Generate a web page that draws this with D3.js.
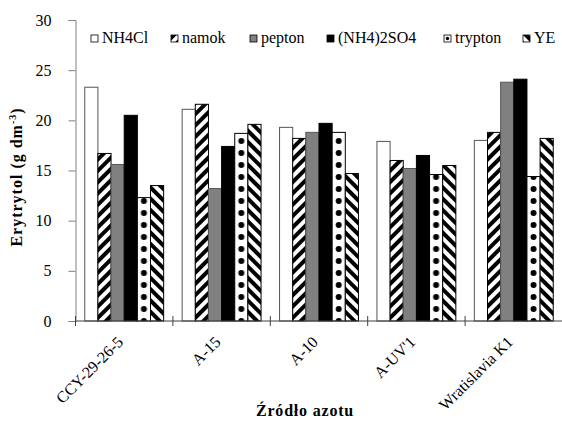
<!DOCTYPE html>
<html>
<head>
<meta charset="utf-8">
<script src="https://cdn.jsdelivr.net/npm/d3@7"></script>
<style>
  body { margin: 0; background: #fff; }
  svg text { font-family: "Liberation Serif", "Times New Roman", serif; }
</style>
</head>
<body>
<div class="chart"></div>
<script>
// Data.
const strains = ["CCY-29-26-5", "A-15", "A-10", "A-UV'1", "Wratislavia K1"];
const sources = ["NH4Cl", "namok", "pepton", "(NH4)2SO4", "trypton", "YE"];
const nh4cl   = [23.3, 21.1, 19.3, 17.9, 18.0];
const namok   = [16.7, 21.6, 18.2, 16.0, 18.8];
const pepton  = [15.6, 13.2, 18.8, 15.2, 23.8];
const nh4so4  = [20.5, 17.4, 19.7, 16.5, 24.1];
const trypton = [12.3, 18.7, 18.8, 14.6, 14.4];
const ye      = [13.5, 19.6, 14.7, 15.5, 18.2];
const yTicks  = [0, 5, 10, 15, 20, 25, 30];

const seriesValues = [nh4cl, namok, pepton, nh4so4, trypton, ye];

const width = 562, height = 421;
const margin = { top: 20, right: 0, bottom: 100, left: 75.5 };
const serif = "Liberation Serif, Times New Roman, serif";

const svg = d3.select(".chart")
  .append("svg")
  .attr("width", width)
  .attr("height", height);

const x0 = d3.scaleBand().domain(strains).range([margin.left, 562.5]).paddingInner(0.19).paddingOuter(0.095);
const x1 = d3.scaleBand().domain(sources).range([0, x0.bandwidth()]);
const y = d3.scaleLinear().domain([0, 30]).range([height - margin.bottom, margin.top]);

// Patterns for the hatched and dotted bars.
const defs = svg.append("defs");
defs.append("pattern")
  .attr("id", "namok")
  .attr("patternUnits", "userSpaceOnUse")
  .attr("width", 8).attr("height", 8)
  .attr("patternTransform", "rotate(45)")
  .call(p => {
    p.append("rect").attr("width", 8).attr("height", 8).attr("fill", "#fff");
    p.append("rect").attr("width", 4).attr("height", 8).attr("fill", "#000");
  });
defs.append("pattern")
  .attr("id", "ye")
  .attr("patternUnits", "userSpaceOnUse")
  .attr("width", 8).attr("height", 8)
  .attr("patternTransform", "rotate(-45)")
  .call(p => {
    p.append("rect").attr("width", 8).attr("height", 8).attr("fill", "#fff");
    p.append("rect").attr("width", 4).attr("height", 8).attr("fill", "#000");
  });
// Dots lined up in the trypton bar (bars sit in translated groups).
defs.append("pattern")
  .attr("id", "trypton")
  .attr("patternUnits", "userSpaceOnUse")
  .attr("x", x1("trypton"))
  .attr("y", y(0) + 6)
  .attr("width", x0.step()).attr("height", 12)
  .call(p => {
    p.append("rect").attr("width", x0.step()).attr("height", 12).attr("fill", "#fff");
    p.append("circle").attr("cx", x1.bandwidth() / 2).attr("cy", 6).attr("r", 3).attr("fill", "#000");
  });
defs.append("pattern")
  .attr("id", "tryptonKey")
  .attr("patternUnits", "objectBoundingBox")
  .attr("width", 1).attr("height", 1)
  .call(p => {
    p.append("rect").attr("width", 8).attr("height", 8).attr("fill", "#fff");
    p.append("circle").attr("cx", 3.5).attr("cy", 3.5).attr("r", 1.7).attr("fill", "#000");
  });

const fills = ["#ffffff", "url(#namok)", "#808080", "#000000", "url(#trypton)", "url(#ye)"];

// Y axis.
const yAxis = svg.append("g")
  .attr("transform", `translate(${margin.left},0)`)
  .call(d3.axisLeft(y).tickValues(yTicks).tickSize(7).tickPadding(17));
yAxis.select(".domain").attr("stroke", "#808080");
yAxis.selectAll(".tick line").attr("stroke", "#808080");
yAxis.selectAll(".tick text")
  .attr("font-size", "16px")
  .attr("font-family", serif)
  .attr("fill", "#000");

// Bars.
const groups = svg.append("g")
  .selectAll("g")
  .data(strains)
  .join("g")
  .attr("transform", d => `translate(${x0(d)},0)`);

groups.selectAll("rect")
  .data((d, i) => sources.map((s, k) => ({ source: s, k, value: seriesValues[k][i] })))
  .join("rect")
  .attr("x", d => x1(d.source))
  .attr("y", d => y(d.value))
  .attr("width", x1.bandwidth())
  .attr("height", d => y(0) - y(d.value))
  .attr("fill", d => fills[d.k])
  .attr("stroke", d => d.k === 0 || d.k === 2 ? "#555" : "#000")
  .attr("stroke-width", 1);

// X axis with cross ticks at group boundaries.
const xAxis = svg.append("g");
xAxis.append("line")
  .attr("x1", margin.left).attr("x2", width)
  .attr("y1", y(0)).attr("y2", y(0))
  .attr("stroke", "#404040");
xAxis.selectAll(".xtick")
  .data(strains)
  .join("line")
  .attr("class", "xtick")
  .attr("x1", (d, i) => margin.left + x0.step() * i)
  .attr("x2", (d, i) => margin.left + x0.step() * i)
  .attr("y1", y(0) - 5).attr("y2", y(0) + 5)
  .attr("stroke", "#404040");
xAxis.selectAll(".xlabel")
  .data(strains)
  .join("text")
  .attr("class", "xlabel")
  .attr("text-anchor", "end")
  .attr("font-family", serif)
  .attr("font-size", "16px")
  .attr("transform", d => `translate(${x0(d) + x0.bandwidth() / 2},${y(0) + 22}) rotate(-45)`)
  .text(d => d);

// Axis titles.
svg.append("text")
  .attr("x", 305).attr("y", 416)
  .attr("text-anchor", "middle")
  .attr("font-family", serif)
  .attr("font-size", "16px")
  .attr("font-weight", "bold")
  .attr("letter-spacing", "0.8px")
  .text("Źródło azotu");

const yTitle = svg.append("text")
  .attr("transform", `translate(22,177) rotate(-90)`)
  .attr("text-anchor", "middle")
  .attr("font-family", serif)
  .attr("font-size", "16px")
  .attr("font-weight", "bold")
  .attr("letter-spacing", "1px");
yTitle.append("tspan").text("Erytrytol  (g dm");
yTitle.append("tspan").attr("font-size", "10px").attr("dy", -6).text("-3");
yTitle.append("tspan").attr("dy", 6).text(")");

// Legend.
const legendX = [91, 171, 250, 327, 444, 523];
const keyFills = ["#ffffff", "url(#namok)", "#808080", "#000000", "url(#tryptonKey)", "url(#ye)"];
const legend = svg.append("g")
  .selectAll("g")
  .data(sources)
  .join("g")
  .attr("transform", (d, i) => `translate(${legendX[i]},35)`);
legend.append("rect")
  .attr("width", 7).attr("height", 7)
  .attr("fill", (d, i) => keyFills[i])
  .attr("stroke", "#000")
  .attr("stroke-width", 0.8);
legend.append("text")
  .attr("x", 11).attr("y", 8)
  .attr("font-family", serif)
  .attr("font-size", "16px")
  .text(d => d);
</script>
</body>
</html>
